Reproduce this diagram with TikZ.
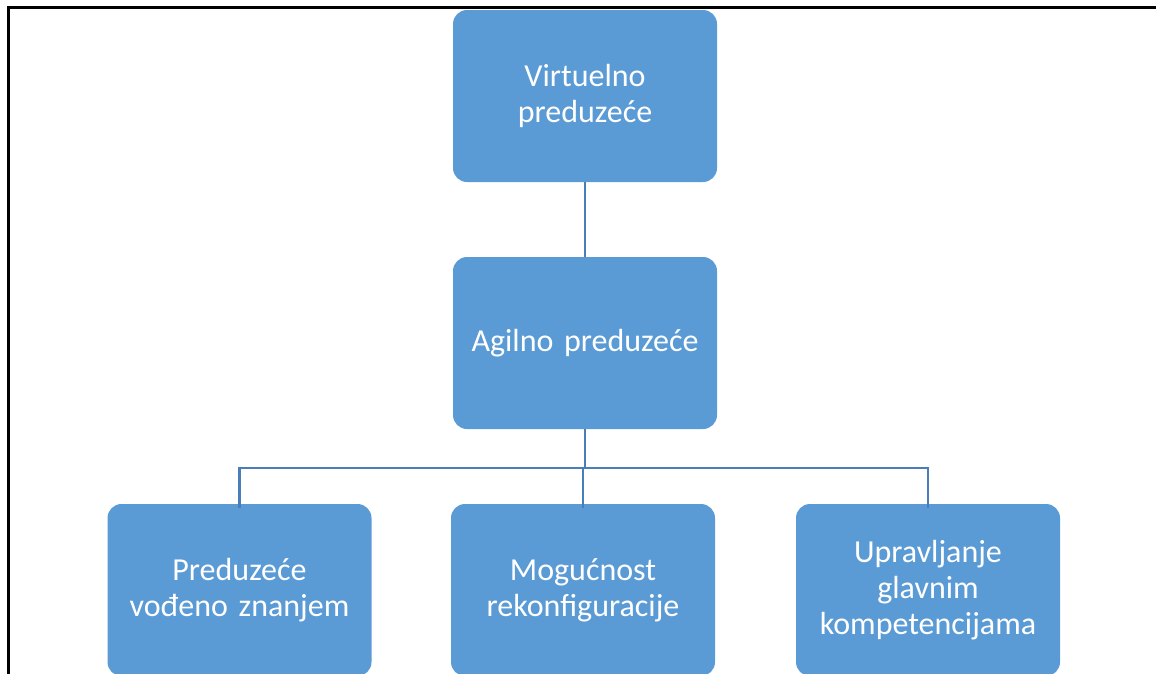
\documentclass[tikz,border=0pt]{standalone}
\usepackage{fontspec}
\setmainfont{Carlito}
\begin{document}
\begin{tikzpicture}[x=1pt,y=-1pt,
  orgbox/.style={draw=none, fill=boxblue, rounded corners=14pt, minimum width=264pt,
    minimum height=172pt, text=white, align=center, inner sep=4pt,
    font=\fontsize{32}{36}\selectfont, text width=254pt},
  link/.style={draw=linkblue, line width=2.6pt}]
\definecolor{boxblue}{HTML}{5B9BD5}
\definecolor{linkblue}{HTML}{4A7EBB}
\useasboundingbox (0,0) rectangle (1156,673);
\clip (0,0) rectangle (1156,673);
% outer frame (top and left edges)
\draw[line width=3pt, black] (8,700) -- (8,7) -- (1170,7);
% boxes
\node[orgbox] (vp) at (585,96) {Virtuelno\\preduzeće};
\node[orgbox] (ap) at (585,343) {Agilno preduzeće};
\node[orgbox] (pz) at (239.5,590) {Preduzeće\\vođeno znanjem};
\node[orgbox] (mr) at (583,590) {Mogućnost\\rekonfiguracije};
\node[orgbox] (ug) at (928,590) {Upravljanje\\glavnim\\kompetencijama};
% connectors
\coordinate (bus) at (585,468);
\draw[link] (vp.south) -- (ap.north);
\draw[link] (ap.south) -- (ap.south |- bus);
\draw[link] ([yshift=-4pt]pz.north) -- (pz.north |- bus) -- (ug.north |- bus) -- ([yshift=-4pt]ug.north);
\draw[link] ([yshift=-4pt]mr.north) -- (mr.north |- bus);
\end{tikzpicture}
\end{document}
